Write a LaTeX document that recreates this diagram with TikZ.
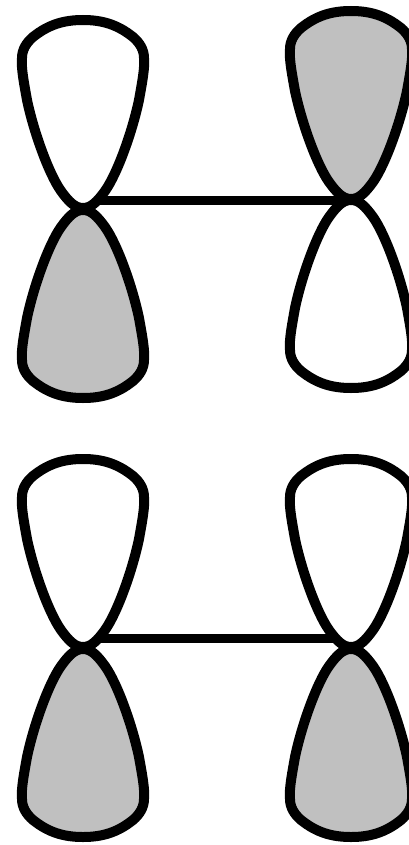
\documentclass[tikz,border=0pt]{standalone}
\definecolor{lobegray}{RGB}{192,192,192}
\tikzset{
  lobe/.style={draw=black,line width=10pt,line join=round},
  shaded/.style={lobe,fill=lobegray},
  open/.style={lobe,fill=white},
  bond/.style={draw=black,line width=9pt},
  upward/.style={yscale=1},
  downward/.style={yscale=-1}
}
% #1 style, #2 x, #3 y of the tip; y axis runs downward on the page
\newcommand{\orbitallobe}[3]{\path[shift={(#2,#3)},#1] (0,0) .. controls (-8,0) and (-14,-6) .. (-22,-17) .. controls (-34,-34) and (-49,-75) .. (-56,-108) .. controls (-59,-125) and (-62,-140) .. (-61,-150) .. controls (-61,-158) and (-57,-165) .. (-50,-171) .. controls (-35,-183) and (-20,-188) .. (0,-188) .. controls (20,-188) and (35,-183) .. (50,-171) .. controls (57,-165) and (61,-158) .. (61,-150) .. controls (62,-140) and (59,-125) .. (56,-108) .. controls (49,-75) and (34,-34) .. (22,-17) .. controls (14,-6) and (8,0) .. (0,0) -- cycle;}
\begin{document}
\begin{tikzpicture}[x=1pt,y=-1pt]
\useasboundingbox (0,0) rectangle (408,845);
\coordinate (a) at (84,200);
\coordinate (b) at (351,200);
\coordinate (c) at (84,638);
\coordinate (d) at (351,638);
\draw[bond] (a) -- (b);
\draw[bond] (c) -- (d);
\orbitallobe{open,upward}{83}{208}
\orbitallobe{shaded,downward}{83}{210}
\orbitallobe{shaded,upward}{351}{199}
\orbitallobe{open,downward}{351}{200}
\orbitallobe{open,upward}{83}{647}
\orbitallobe{shaded,downward}{83}{649}
\orbitallobe{open,upward}{351}{647}
\orbitallobe{shaded,downward}{351}{649}
\end{tikzpicture}
\end{document}
